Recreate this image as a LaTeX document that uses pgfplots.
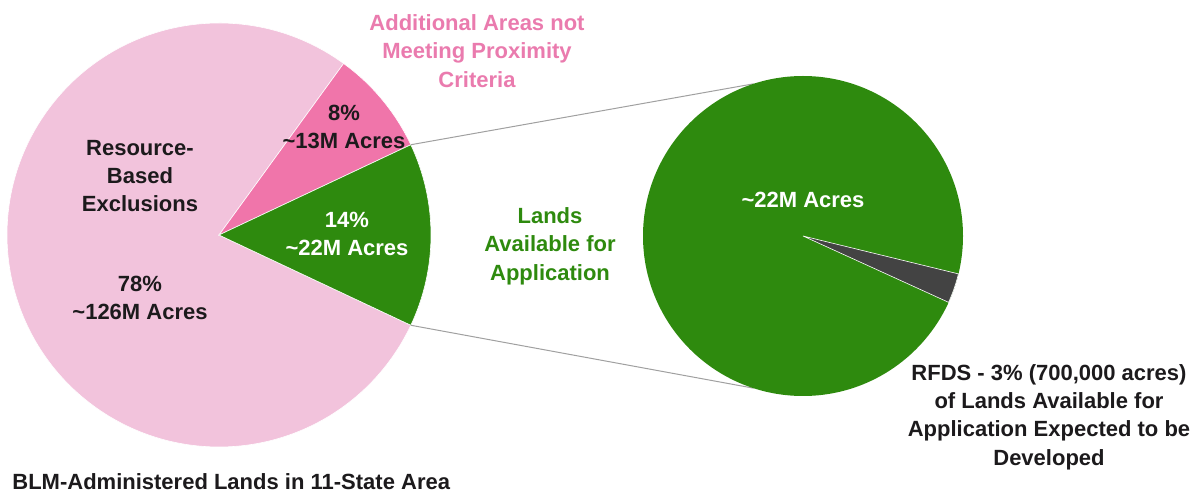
\documentclass[border=0pt]{standalone}
\usepackage{pgfplots}
\usepackage{pgfplotstable}
\pgfplotsset{compat=1.18}
\usetikzlibrary{calc}
\usepackage{fontspec}
\setmainfont{Liberation Sans}

\definecolor{lightpink}{HTML}{F2C3DC}
\definecolor{hotpink}{HTML}{F075AA}
\definecolor{labelpink}{HTML}{EA7BAE}
\definecolor{leafgreen}{HTML}{2E8A0E}
\definecolor{slate}{HTML}{434343}
\definecolor{ink}{HTML}{1C1A1C}
\definecolor{connector}{HTML}{A0A0A0}

% shares of BLM-administered lands (left pie)
\pgfplotstableread{
slice pct
exclusions 78
additional 8
available 14
}\leftpie
% breakdown of lands available for application (right pie)
\pgfplotstableread{
slice pct
remaining 97
rfds 3
}\rightpie

\pgfplotstablegetelem{0}{pct}\of\leftpie \let\pExcl\pgfplotsretval
\pgfplotstablegetelem{1}{pct}\of\leftpie \let\pAdd\pgfplotsretval
\pgfplotstablegetelem{2}{pct}\of\leftpie \let\pAvail\pgfplotsretval
\pgfplotstablegetelem{1}{pct}\of\rightpie \let\pRfds\pgfplotsretval

% angles (degrees): available slice centred on the right-hand side
\pgfmathsetmacro\aAvailLo{-1.8*\pAvail}
\pgfmathsetmacro\aAvailHi{1.8*\pAvail}
\pgfmathsetmacro\aAddHi{\aAvailHi+3.6*\pAdd}
\pgfmathsetmacro\aExclHi{\aAddHi+3.6*\pExcl}
\pgfmathsetmacro\aRfdsLo{-24.5}
\pgfmathsetmacro\aRfdsHi{\aRfdsLo+3.6*\pRfds}

% unit: one picture pixel = 0.5pt
\def\u{0.5pt}
\def\rL{212}\def\cxL{219}\def\cyL{258}
\def\rR{160}\def\cxR{803}\def\cyR{257}

\begin{document}
\begin{tikzpicture}[font=\bfseries\fontsize{11}{14.2}\selectfont]
\begin{axis}[
  x=\u, y=\u,
  xmin=0, xmax=1195, ymin=0, ymax=493,
  hide axis, clip=false,
]
\coordinate (ll) at (axis cs:0,0);
\coordinate (ur) at (axis cs:1195,493);

% left pie
\fill[lightpink, draw=white, line width=0.3pt] (axis cs:\cxL,\cyL) -- ++(\aAddHi:\rL*\u)
  arc[start angle=\aAddHi, end angle=\aExclHi, radius=\rL*\u] -- cycle;
\fill[hotpink, draw=white, line width=0.3pt] (axis cs:\cxL,\cyL) -- ++(\aAvailHi:\rL*\u)
  arc[start angle=\aAvailHi, end angle=\aAddHi, radius=\rL*\u] -- cycle;
\fill[leafgreen, draw=white, line width=0.3pt] (axis cs:\cxL,\cyL) -- ++(\aAvailLo:\rL*\u)
  arc[start angle=\aAvailLo, end angle=\aAvailHi, radius=\rL*\u] -- cycle;

% connectors
\draw[connector, line width=0.5pt] ($(axis cs:\cxL,\cyL)+(\aAvailHi:\rL*\u)$) -- ($(axis cs:\cxR,\cyR)+(108:\rR*\u)$);
\draw[connector, line width=0.5pt] ($(axis cs:\cxL,\cyL)+(\aAvailLo:\rL*\u)$) -- ($(axis cs:\cxR,\cyR)+(252:\rR*\u)$);

% right pie
\fill[leafgreen] (axis cs:\cxR,\cyR) circle[radius=\rR*\u];
\fill[slate, draw=white, line width=0.3pt] (axis cs:\cxR,\cyR) -- ++(\aRfdsLo:\rR*\u)
  arc[start angle=\aRfdsLo, end angle=\aRfdsHi, radius=\rR*\u] -- cycle;

% labels
\node[labelpink, align=center] at (axis cs:477,442) {Additional Areas not\\Meeting Proximity\\Criteria};
\node[ink, align=center] at (axis cs:344,366) {8\%\\\textasciitilde13M Acres};
\node[ink, align=center] at (axis cs:140,317) {Resource-\\Based\\Exclusions};
\node[white, align=center] at (axis cs:347,259) {14\%\\\textasciitilde22M Acres};
\node[ink, align=center] at (axis cs:140,195) {78\%\\\textasciitilde126M Acres};
\node[leafgreen, align=center] at (axis cs:550,247) {Lands\\Available for\\Application};
\node[white, align=center] at (axis cs:803,293) {\textasciitilde22M Acres};
\node[ink, align=center] at (axis cs:1049,76) {RFDS - 3\% (700,000 acres)\\of Lands Available for\\Application Expected to be\\Developed};
\node[ink, anchor=west, inner sep=0pt] at (axis cs:12,11) {BLM-Administered Lands in 11-State Area};
\end{axis}
\pgfresetboundingbox
\path[use as bounding box] (ll) rectangle (ur);
\end{tikzpicture}
\end{document}
